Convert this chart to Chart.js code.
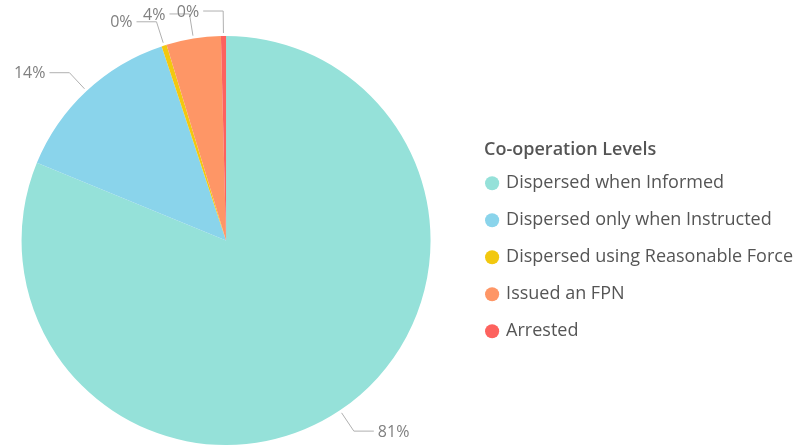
<!DOCTYPE html>
<html>
<head>
<meta charset="utf-8">
<script src="https://cdn.jsdelivr.net/npm/chart.js@4/dist/chart.umd.min.js"></script>
<style>
  html, body { margin: 0; padding: 0; background: #fff; overflow: hidden; }
  #wrap { width: 819px; height: 445px; position: relative; margin-left: -16px; }
</style>
</head>
<body>
<div id="wrap"><canvas id="pieChart"></canvas></div>
<script>
const categories = ['Dispersed when Informed', 'Dispersed only when Instructed', 'Dispersed using Reasonable Force', 'Issued an FPN', 'Arrested'];
const shares = [81.2, 13.7, 0.4, 4.3, 0.4]; // percent
const sliceColors = ['#95E1D9', '#8AD4EB', '#F2C80F', '#FE9666', '#FD625E'];
const legendTitle = 'Co-operation Levels';

const fontFamily = '"Open Sans", "Noto Sans", sans-serif';

// outside labels with leader lines, like Power BI
const leaderLabels = {
    id: 'leaderLabels',
    afterDatasetsDraw(chart) {
        const ctx = chart.ctx;
        const meta = chart.getDatasetMeta(0);
        const values = chart.data.datasets[0].data;
        ctx.save();
        ctx.strokeStyle = '#b0b0b0';
        ctx.lineWidth = 1;
        ctx.fillStyle = '#808080';
        ctx.font = '16px ' + fontFamily;
        ctx.textBaseline = 'middle';
        meta.data.forEach((arc, i) => {
            const p = arc.getProps(['x', 'y', 'startAngle', 'endAngle', 'outerRadius'], true);
            const mid = (p.startAngle + p.endAngle) / 2;
            const cos = Math.cos(mid), sin = Math.sin(mid);
            const x0 = p.x + cos * (p.outerRadius + 3);
            const y0 = p.y + sin * (p.outerRadius + 3);
            const x1 = p.x + cos * (p.outerRadius + 25);
            const y1 = p.y + sin * (p.outerRadius + 25);
            const dir = cos >= 0 ? 1 : -1;
            const x2 = x1 + dir * 20;
            ctx.beginPath();
            ctx.moveTo(x0, y0);
            ctx.lineTo(x1, y1);
            ctx.lineTo(x2, y1);
            ctx.stroke();
            ctx.textAlign = dir > 0 ? 'left' : 'right';
            ctx.fillText(Math.round(values[i]) + '%', x2 + dir * 4, y1 + 1);
        });
        ctx.restore();
    },
    // legend title drawn flush with the legend markers
    afterDraw(chart) {
        const lg = chart.legend;
        if (!lg || !lg.legendHitBoxes.length) return;
        const first = lg.legendHitBoxes[0];
        const ctx = chart.ctx;
        ctx.save();
        ctx.fillStyle = '#555';
        ctx.font = '600 18px ' + fontFamily;
        ctx.textAlign = 'left';
        ctx.textBaseline = 'middle';
        ctx.fillText(legendTitle, first.left - 3, first.top + first.height / 2 - 33);
        ctx.restore();
    }
};

new Chart(document.getElementById('pieChart'), {
    type: 'pie',
    data: {
        labels: categories,
        datasets: [{
            data: shares,
            backgroundColor: sliceColors,
            borderWidth: 0
        }]
    },
    options: {
        responsive: true,
        maintainAspectRatio: false,
        animation: false,
        layout: {
            padding: { top: 36, bottom: 0, left: 0, right: 0 }
        },
        plugins: {
            tooltip: { enabled: false },
            legend: {
                position: 'right',
                align: 'center',
                title: {
                    display: true,
                    text: legendTitle,
                    color: 'rgba(0,0,0,0)',
                    font: { family: fontFamily, size: 18, weight: '600' },
                    padding: { top: 12, bottom: 0 },
                    position: 'start'
                },
                labels: {
                    usePointStyle: true,
                    pointStyle: 'circle',
                    boxWidth: 10,
                    boxHeight: 10,
                    padding: 19,
                    color: '#555',
                    font: { family: fontFamily, size: 18 }
                }
            }
        }
    },
    plugins: [leaderLabels]
});
</script>
</body>
</html>
